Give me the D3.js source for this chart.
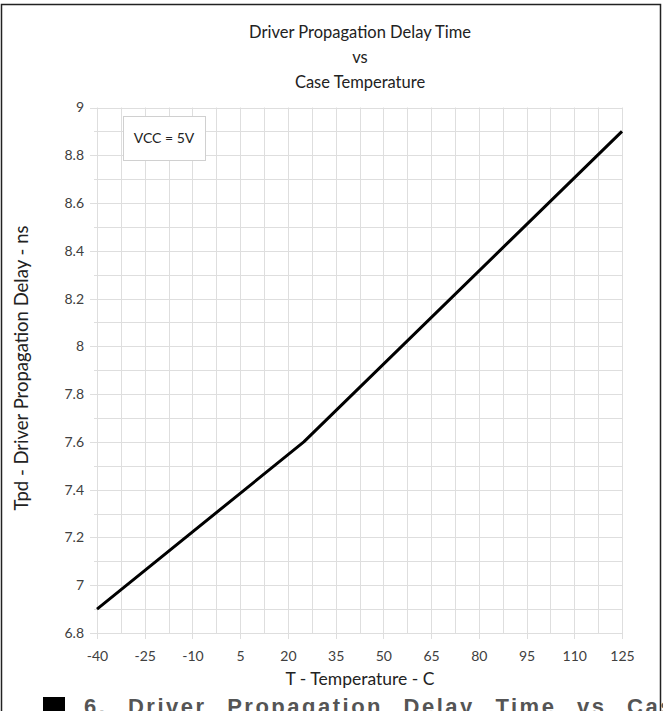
<!DOCTYPE html>
<html>
<head>
<meta charset="utf-8">
<script src="https://cdn.jsdelivr.net/npm/d3@7"></script>
<style>
  html, body { margin: 0; padding: 0; background: #fff; }
  svg { display: block; }
</style>
</head>
<body>
<svg id="chart" width="663" height="711"></svg>
<script>
// data
const temps = [-40, 25, 125];
const delays = [6.9, 7.6, 8.9];
const xTicks = [-40, -25, -10, 5, 20, 35, 50, 65, 80, 95, 110, 125];
const yTicks = [6.8, 7, 7.2, 7.4, 7.6, 7.8, 8, 8.2, 8.4, 8.6, 8.8, 9];
const titleLines = ['Driver Propagation Delay Time', 'vs', 'Case Temperature'];
const noteText = 'VCC = 5V';
const xLabel = 'T - Temperature - C';
const yLabel = 'Tpd - Driver Propagation Delay - ns';
const captionText = '6. Driver Propagation Delay Time vs Case';

const svg = d3.select('#chart');
const font = 'Lato, sans-serif';
const plot = {left: 97, right: 622, top: 107.5, bottom: 633};

const x = d3.scaleLinear().domain([-40, 125]).range([plot.left, plot.right]);
const y = d3.scaleLinear().domain([6.8, 9]).range([plot.bottom, plot.top]);

// outer frame
svg.append('path')
  .attr('d', 'M1.5,711 V4.5 H660.5 V711')
  .attr('fill', 'none')
  .attr('stroke', '#222')
  .attr('stroke-width', 1.5);

// grid: minor lines at half the label step
const gridX = d3.range(-40, 125.01, 7.5);
const gridY = d3.range(6.8, 9.001, 0.1);

const grid = svg.append('g').attr('stroke', '#dedede').attr('stroke-width', 1);
grid.selectAll('.gx')
  .data(gridX)
  .enter()
  .append('line')
  .attr('x1', d => Math.round(x(d)) + 0.5)
  .attr('x2', d => Math.round(x(d)) + 0.5)
  .attr('y1', plot.top)
  .attr('y2', (d, i) => i % 2 === 0 ? plot.bottom + 6 : plot.bottom);
grid.selectAll('.gy')
  .data(gridY)
  .enter()
  .append('line')
  .attr('x1', (d, i) => i % 2 === 0 ? plot.left - 7 : plot.left - 3)
  .attr('x2', plot.right)
  .attr('y1', d => Math.round(y(d)) + 0.5)
  .attr('y2', d => Math.round(y(d)) + 0.5);

// axis labels via d3 axes, lines hidden; plain hyphen for negatives like the source
const xAxis = svg.append('g')
  .attr('transform', `translate(0,${plot.bottom})`)
  .call(d3.axisBottom(x).tickValues(xTicks).tickSize(0).tickPadding(18).tickFormat(d => String(d)));
const yAxis = svg.append('g')
  .attr('transform', `translate(${plot.left},0)`)
  .call(d3.axisLeft(y).tickValues(yTicks).tickSize(0).tickPadding(13).tickFormat(d => String(+d.toFixed(1))));
[xAxis, yAxis].forEach(a => {
  a.select('.domain').remove();
  a.selectAll('text')
    .style('font-family', font)
    .style('font-size', '14px')
    .attr('fill', '#404040');
});

// the curve
svg.append('path')
  .datum(temps.map((t, i) => [t, delays[i]]))
  .attr('fill', 'none')
  .attr('stroke', '#000')
  .attr('stroke-width', 3)
  .attr('stroke-linejoin', 'round')
  .attr('d', d3.line().x(d => x(d[0])).y(d => y(d[1])));

// note box
svg.append('rect')
  .attr('x', 123.5).attr('y', 116.5)
  .attr('width', 82).attr('height', 44)
  .attr('fill', '#fff')
  .attr('stroke', '#d0d0d0');
svg.append('text')
  .attr('x', 164).attr('y', 143)
  .attr('text-anchor', 'middle')
  .style('font-family', font)
  .style('font-size', '14px')
  .attr('fill', '#222')
  .text(noteText);

// title
svg.append('g').selectAll('text')
  .data(titleLines)
  .enter()
  .append('text')
  .attr('x', 360)
  .attr('y', (d, i) => 38 + i * 25)
  .attr('text-anchor', 'middle')
  .style('font-family', font)
  .style('font-size', '16.5px')
  .attr('fill', '#222')
  .text(d => d);

// axis titles
svg.append('text')
  .attr('x', 360).attr('y', 685)
  .attr('text-anchor', 'middle')
  .style('font-family', font)
  .style('font-size', '17.5px')
  .attr('fill', '#222')
  .text(xLabel);
svg.append('text')
  .attr('transform', 'translate(28,368) rotate(-90)')
  .attr('text-anchor', 'middle')
  .style('font-family', font)
  .style('font-size', '18.5px')
  .attr('fill', '#222')
  .text(yLabel);

// figure caption, cut off by the bottom edge
svg.append('rect')
  .attr('x', 43).attr('y', 697)
  .attr('width', 22).attr('height', 20)
  .attr('fill', '#000');
svg.append('text')
  .attr('x', 84).attr('y', 714)
  .style('font-family', 'Liberation Sans, Arial, sans-serif')
  .style('font-size', '22px')
  .style('font-weight', 'bold')
  .style('letter-spacing', '2.5px')
  .style('word-spacing', '12px')
  .attr('fill', '#555')
  .text(captionText);
</script>
</body>
</html>
